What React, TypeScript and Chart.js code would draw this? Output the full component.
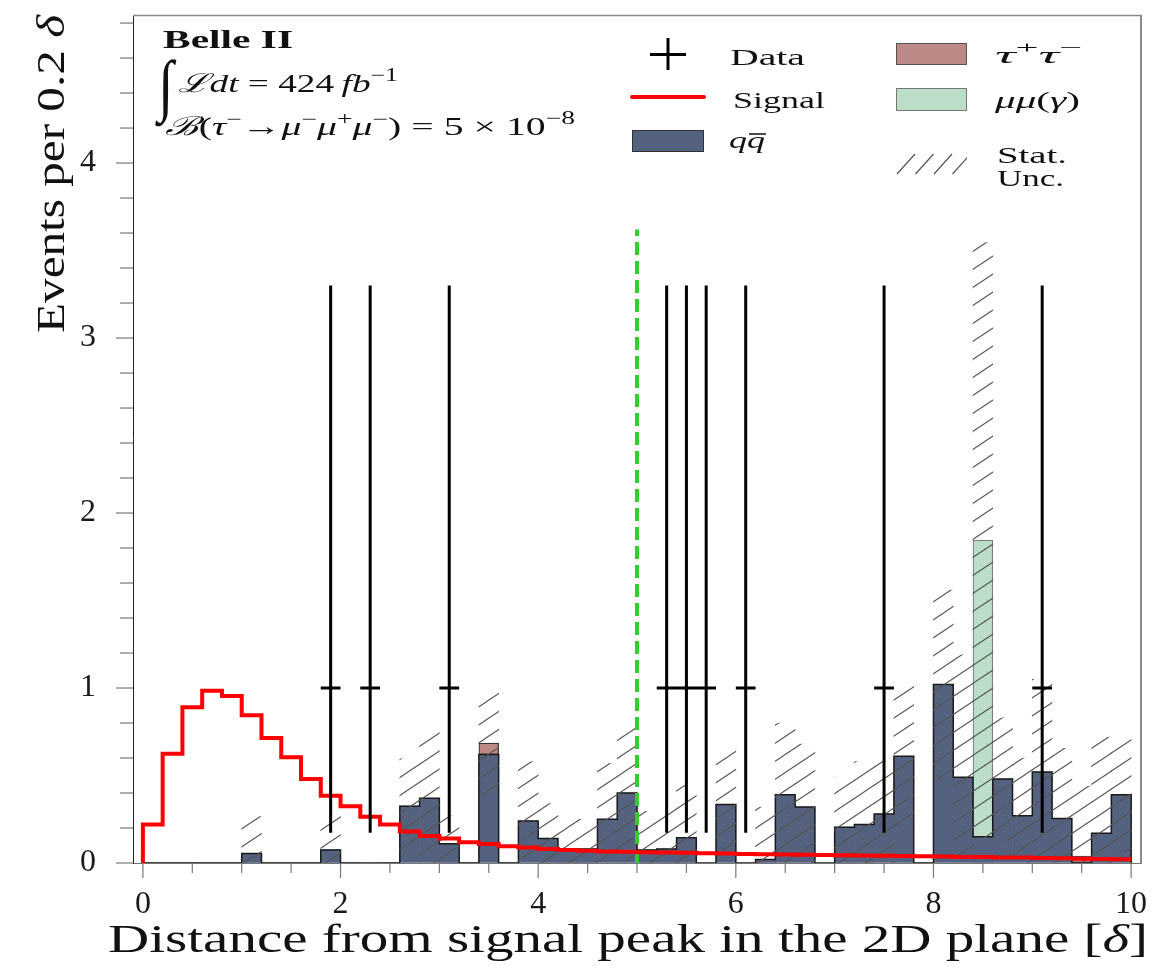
import React, { useEffect, useRef } from 'react';
import { Chart, registerables } from 'chart.js';

Chart.register(...registerables);

// ---------------- data ----------------
const binCenters = [
  0.1, 0.3, 0.5, 0.7, 0.9, 1.1, 1.3, 1.5, 1.7, 1.9,
  2.1, 2.3, 2.5, 2.7, 2.9, 3.1, 3.3, 3.5, 3.7, 3.9,
  4.1, 4.3, 4.5, 4.7, 4.9, 5.1, 5.3, 5.5, 5.7, 5.9,
  6.1, 6.3, 6.5, 6.7, 6.9, 7.1, 7.3, 7.5, 7.7, 7.9,
  8.1, 8.3, 8.5, 8.7, 8.9, 9.1, 9.3, 9.5, 9.7, 9.9,
];
const binWidth = 0.2;

const signal = [
  0.22, 0.625, 0.89, 0.985, 0.955, 0.845, 0.715, 0.605, 0.48, 0.385,
  0.325, 0.265, 0.22, 0.18, 0.155, 0.14, 0.118, 0.108, 0.096, 0.088,
  0.08, 0.075, 0.07, 0.066, 0.064, 0.062, 0.06, 0.058, 0.056, 0.054,
  0.052, 0.05, 0.049, 0.047, 0.046, 0.044, 0.043, 0.041, 0.04, 0.038,
  0.037, 0.035, 0.034, 0.032, 0.031, 0.029, 0.027, 0.025, 0.023, 0.021,
];

const qqbar: (number | null)[] = [
  0, 0, 0, 0, 0, 0.055, 0, 0, 0, 0.075,
  0, null, 0, 0.325, 0.37, 0.11, 0, 0.62, 0, 0.24,
  0.14, 0.08, 0.08, 0.25, 0.4, 0.075, 0.08, 0.145, null, 0.335,
  null, 0.02, 0.39, 0.32, null, 0.205, 0.22, 0.28, 0.61, 0,
  1.02, 0.49, 0.15, 0.48, 0.27, 0.52, 0.255, 0, 0.17, 0.39,
];

const tautau = [
  0, 0, 0, 0, 0, 0, 0, 0, 0, 0,
  0, 0, 0, 0, 0, 0, 0, 0.065, 0, 0,
  0, 0, 0, 0, 0, 0, 0, 0, 0, 0,
  0, 0, 0, 0, 0, 0, 0, 0, 0, 0,
  0, 0, 0, 0, 0, 0, 0, 0.04, 0, 0,
];

const mumu = [
  0, 0, 0, 0, 0, 0, 0, 0, 0, 0,
  0, 0, 0, 0, 0, 0, 0, 0, 0, 0,
  0, 0, 0, 0, 0, 0, 0, 0, 0, 0,
  0, 0, 0, 0, 0, 0, 0, 0, 0, 0,
  0, 0, 1.695, 0, 0, 0, 0, 0, 0, 0,
];

const statUnc = [
  0, 0, 0, 0, 0, 0.21, 0, 0, 0, 0.2,
  0, 0, 0, 0.27, 0.385, 0.16, 0, 0.3, 0, 0.34,
  0.2, 0.17, 0.17, 0.32, 0.385, 0.22, 0.24, 0.3, 0, 0.31,
  0, 0.3, 0.41, 0.36, 0, 0.29, 0.36, 0.3, 0.42, 0,
  0.54, 0.7, 1.7, 0.35, 0.33, 0.53, 0.4, 0.4, 0.55, 0.33,
];

const dataX = [1.9, 2.3, 3.1, 5.3, 5.5, 5.7, 6.1, 7.5, 9.1];
const dataY = [1, 1, 1, 1, 1, 1, 1, 1, 1];
const dataErrLow = [0.827, 0.827, 0.827, 0.827, 0.827, 0.827, 0.827, 0.827, 0.827];
const dataErrHigh = [2.3, 2.3, 2.3, 2.3, 2.3, 2.3, 2.3, 2.3, 2.3];

const cutPosition = 5;
const cutLineTop = 3.62;

const xTickLabels = ['0', '2', '4', '6', '8', '10'];
const yTickLabels = ['0', '1', '2', '3', '4'];

// ---------------- styling ----------------
const SERIF = '"Liberation Serif", "DejaVu Serif", serif';
const f = (size: number, style = '') => `${style} ${size}px ${SERIF}`.trim();

const COL_QQ = '#55627f';
const COL_TT = '#bc8987';
const COL_MM = '#bcdec8';
const COL_SIG = '#ff0000';
const COL_CUT = '#33cc33';

type Run = { t: string; font: string; dy?: number };

function drawRuns(ctx: CanvasRenderingContext2D, runs: Run[], x: number, y: number, targetW: number) {
  let total = 0;
  const ws = runs.map((r) => {
    ctx.font = r.font;
    const w = ctx.measureText(r.t).width;
    total += w;
    return w;
  });
  const sx = targetW / total;
  ctx.save();
  ctx.translate(x, y);
  ctx.scale(sx, 1);
  let cx = 0;
  const starts: number[] = [];
  runs.forEach((r, i) => {
    ctx.font = r.font;
    starts.push(cx * sx + x);
    ctx.fillText(r.t, cx, r.dy || 0);
    cx += ws[i];
  });
  ctx.restore();
  return { starts, widths: ws.map((w) => w * sx) };
}

function makeHatch(): CanvasPattern | string {
  const W = 27, H = 18;
  const c = document.createElement('canvas');
  c.width = W;
  c.height = H;
  const g = c.getContext('2d');
  if (!g) return 'rgba(0,0,0,0)';
  g.strokeStyle = '#555';
  g.lineWidth = 1.1;
  for (const off of [-H, 0, H]) {
    g.beginPath();
    g.moveTo(-W, 2 * H + off);
    g.lineTo(2 * W, -H + off);
    g.stroke();
  }
  return g.createPattern(c, 'repeat') || '#888';
}

const overlayPlugin = {
  id: 'belleOverlay',
  afterDraw(chart: any) {
    const { ctx, chartArea: a, scales } = chart;
    const xs = scales.x;
    const ys = scales.y;
    ctx.save();
    // tick marks
    ctx.strokeStyle = '#777';
    ctx.lineWidth = 1.2;
    xs.ticks.forEach((t: any) => {
      const px = xs.getPixelForValue(t.value);
      const major = Math.abs(t.value / 2 - Math.round(t.value / 2)) < 1e-6;
      ctx.beginPath();
      ctx.moveTo(px, a.bottom);
      ctx.lineTo(px, a.bottom + (major ? 15 : 10));
      ctx.stroke();
    });
    ys.ticks.forEach((t: any) => {
      const py = ys.getPixelForValue(t.value);
      const major = Math.abs(t.value - Math.round(t.value)) < 1e-6;
      ctx.beginPath();
      ctx.moveTo(a.left - (major ? 17 : 13), py);
      ctx.lineTo(a.left, py);
      ctx.stroke();
    });
    // frame top / right
    ctx.strokeStyle = '#8a8a8a';
    ctx.lineWidth = 1.3;
    ctx.beginPath();
    ctx.moveTo(a.left, a.top + 0.5);
    ctx.lineTo(a.right, a.top + 0.5);
    ctx.stroke();
    ctx.lineWidth = 2;
    ctx.beginPath();
    ctx.moveTo(a.right, a.top);
    ctx.lineTo(a.right, a.bottom);
    ctx.stroke();

    ctx.fillStyle = '#111';
    ctx.textBaseline = 'alphabetic';
    ctx.textAlign = 'left';

    // axis titles
    drawRuns(ctx, [
      { t: 'Distance from signal peak in the 2D plane [', font: f(40) },
      { t: 'δ', font: f(40, 'italic') },
      { t: ']', font: f(40) },
    ], 108, 952, 1040);
    ctx.save();
    ctx.translate(64, 333);
    ctx.rotate(-Math.PI / 2);
    drawRuns(ctx, [
      { t: 'Events per 0.2 ', font: f(40) },
      { t: 'δ', font: f(40, 'italic') },
    ], 0, 0, 318);
    ctx.restore();

    // top-left annotation
    drawRuns(ctx, [{ t: 'Belle II', font: f(25, 'bold') }], 163, 48, 130);
    ctx.save();
    ctx.font = f(56);
    ctx.translate(158, 108);
    ctx.scale(1.0, 1.22);
    ctx.fillText('∫', 0, 0);
    ctx.restore();
    drawRuns(ctx, [
      { t: 'ℒ', font: f(26, 'italic') },
      { t: 'dt', font: f(26, 'italic') },
      { t: ' = 424\u2009', font: f(26) },
      { t: 'fb', font: f(26, 'italic') },
      { t: '−1', font: f(18), dy: -11 },
    ], 178, 92, 220);
    drawRuns(ctx, [
      { t: 'ℬ', font: f(26, 'italic') },
      { t: '(', font: f(26) },
      { t: 'τ', font: f(26, 'italic') },
      { t: '−', font: f(18), dy: -10 },
      { t: '→', font: f(26) },
      { t: 'μ', font: f(26, 'italic') },
      { t: '−', font: f(18), dy: -10 },
      { t: 'μ', font: f(26, 'italic') },
      { t: '+', font: f(18), dy: -10 },
      { t: 'μ', font: f(26, 'italic') },
      { t: '−', font: f(18), dy: -10 },
      { t: ')', font: f(26) },
      { t: ' = 5 × 10', font: f(26) },
      { t: '−8', font: f(18), dy: -11 },
    ], 165, 135, 410);

    // legend symbols
    ctx.strokeStyle = '#000';
    ctx.lineWidth = 3;
    ctx.beginPath();
    ctx.moveTo(650, 54.5);
    ctx.lineTo(686, 54.5);
    ctx.moveTo(668, 38);
    ctx.lineTo(668, 70);
    ctx.stroke();

    ctx.strokeStyle = COL_SIG;
    ctx.lineWidth = 4;
    ctx.lineCap = 'round';
    ctx.beginPath();
    ctx.moveTo(632, 97);
    ctx.lineTo(704, 97);
    ctx.stroke();
    ctx.lineCap = 'butt';

    const box = (x0: number, y0: number, x1: number, y1: number, fill: string, stroke: string) => {
      ctx.fillStyle = fill;
      ctx.fillRect(x0, y0, x1 - x0, y1 - y0);
      ctx.strokeStyle = stroke;
      ctx.lineWidth = 1;
      ctx.strokeRect(x0 + 0.5, y0 + 0.5, x1 - x0 - 1, y1 - y0 - 1);
    };
    box(632, 130, 704, 152, COL_QQ, '#333');
    box(896, 43, 967, 65, COL_TT, '#555');
    box(896, 88, 967, 111, COL_MM, '#777');

    ctx.save();
    ctx.beginPath();
    ctx.rect(896, 152, 71, 23);
    ctx.clip();
    ctx.strokeStyle = '#555';
    ctx.lineWidth = 1.2;
    for (let i = 0; i < 4; i++) {
      const x0 = 897 + i * 18.5;
      ctx.beginPath();
      ctx.moveTo(x0, 174);
      ctx.lineTo(x0 + 18, 154);
      ctx.stroke();
    }
    ctx.restore();

    // legend text
    ctx.fillStyle = '#111';
    drawRuns(ctx, [{ t: 'Data', font: f(24) }], 730, 65, 75);
    drawRuns(ctx, [{ t: 'Signal', font: f(24) }], 733, 108, 92);
    const qq = drawRuns(ctx, [
      { t: 'q', font: f(24, 'italic') },
      { t: 'q', font: f(24, 'italic') },
    ], 729, 148, 36);
    ctx.strokeStyle = '#111';
    ctx.lineWidth = 1.5;
    ctx.beginPath();
    ctx.moveTo(qq.starts[1] + 2, 134);
    ctx.lineTo(qq.starts[1] + qq.widths[1] + 1, 134);
    ctx.stroke();
    drawRuns(ctx, [
      { t: 'τ', font: f(24, 'italic') },
      { t: '+', font: f(17), dy: -10 },
      { t: 'τ', font: f(24, 'italic') },
      { t: '−', font: f(17), dy: -10 },
    ], 995, 63, 87);
    drawRuns(ctx, [
      { t: 'μμ', font: f(24, 'italic') },
      { t: '(', font: f(24) },
      { t: 'γ', font: f(24, 'italic') },
      { t: ')', font: f(24) },
    ], 995, 108, 85);
    drawRuns(ctx, [{ t: 'Stat.', font: f(24) }], 997, 163, 70);
    drawRuns(ctx, [{ t: 'Unc.', font: f(24) }], 997, 186, 67);

    ctx.restore();
  },
};

export default function App() {
  const ref = useRef<HTMLCanvasElement | null>(null);

  useEffect(() => {
    document.body.style.margin = '0';
    const canvas = ref.current;
    if (!canvas) return;

    const half = binWidth / 2;
    const totals = binCenters.map((_, i) => (qqbar[i] ?? 0) + tautau[i] + mumu[i]);

    const qqData = binCenters.map((c, i) => ({ x: c, y: qqbar[i] === null ? null : [0, qqbar[i] as number] }));
    const ttData = binCenters.map((c, i) => {
      const base = qqbar[i] ?? 0;
      return { x: c, y: tautau[i] > 0 ? [base, base + tautau[i]] : null };
    });
    const mmData = binCenters.map((c, i) => {
      const base = (qqbar[i] ?? 0) + tautau[i];
      return { x: c, y: mumu[i] > 0 ? [base, base + mumu[i]] : null };
    });
    const hatchData = binCenters.map((c, i) => ({
      x: c,
      y: statUnc[i] > 0 ? [Math.max(0, totals[i] - statUnc[i]), totals[i] + statUnc[i]] : null,
    }));

    const outlinePts: any[] = binCenters.map((c, i) => ({ x: c - half, y: qqbar[i] ?? 0 }));
    outlinePts.push({ x: binCenters[binCenters.length - 1] + half, y: qqbar[qqbar.length - 1] ?? 0 });
    outlinePts.push({ x: binCenters[binCenters.length - 1] + half, y: 0 });

    const signalPts: any[] = [{ x: binCenters[0] - half, y: 0 }];
    binCenters.forEach((c, i) => signalPts.push({ x: c - half, y: signal[i] }));
    signalPts.push({ x: binCenters[binCenters.length - 1] + half, y: signal[signal.length - 1] });

    const dataPts: any[] = [];
    dataX.forEach((x, i) => {
      dataPts.push({ x, y: dataY[i] - dataErrLow[i] });
      dataPts.push({ x, y: dataY[i] + dataErrHigh[i] });
      dataPts.push({ x, y: null });
      dataPts.push({ x: x - half, y: dataY[i] });
      dataPts.push({ x: x + half, y: dataY[i] });
      dataPts.push({ x, y: null });
    });

    const barCommon = {
      type: 'bar' as const,
      grouped: false,
      barPercentage: 1,
      categoryPercentage: 1,
    };

    const chart = new Chart(canvas, {
      type: 'bar',
      data: {
        datasets: [
          {
            type: 'line', label: 'Data', data: dataPts, borderColor: '#000', borderWidth: 3,
            pointRadius: 0, spanGaps: false, order: 0, borderCapStyle: 'butt',
          } as any,
          {
            type: 'line', label: 'Signal', data: signalPts, stepped: true, borderColor: COL_SIG,
            borderWidth: 4, pointRadius: 0, order: 1, borderJoinStyle: 'miter',
          } as any,
          {
            type: 'line', label: 'cut', data: [{ x: cutPosition, y: 0 }, { x: cutPosition, y: cutLineTop }],
            borderColor: COL_CUT, borderWidth: 4, borderDash: [13, 6], pointRadius: 0, order: 2,
          } as any,
          {
            ...barCommon, label: 'Stat. Unc.', data: hatchData, backgroundColor: makeHatch(),
            borderWidth: 0, order: 3,
          } as any,
          {
            type: 'line', label: 'qq outline', data: outlinePts, stepped: true, borderColor: '#1a1a1a',
            borderWidth: 1.5, pointRadius: 0, order: 4,
          } as any,
          {
            ...barCommon, label: 'μμ(γ)', data: mmData, backgroundColor: COL_MM, borderColor: '#7d7d7d',
            borderWidth: 1.2, borderSkipped: false, order: 5,
          } as any,
          {
            ...barCommon, label: 'τ+τ−', data: ttData, backgroundColor: COL_TT, borderColor: '#333',
            borderWidth: 1.2, borderSkipped: false, order: 6,
          } as any,
          {
            ...barCommon, label: 'qq̄', data: qqData, backgroundColor: COL_QQ, borderWidth: 0, order: 7,
          } as any,
        ],
      },
      options: {
        responsive: false,
        animation: false,
        devicePixelRatio: 1,
        events: [],
        layout: { padding: { top: 15, right: 11, left: 0, bottom: 0 }, autoPadding: false },
        plugins: { legend: { display: false }, tooltip: { enabled: false }, title: { display: false } },
        scales: {
          x: {
            type: 'linear', min: -0.1, max: 10.1, offset: false,
            grid: { display: true, drawOnChartArea: false, drawTicks: true, tickLength: 14, tickColor: 'transparent', offset: false },
            border: { display: true, color: '#777', width: 1 },
            ticks: {
              stepSize: 0.5, includeBounds: false, autoSkip: false, maxRotation: 0, minRotation: 0,
              padding: 8, color: '#1a1a1a', font: { family: SERIF, size: 32 },
              callback: (v: any) => {
                const n = Number(v);
                const idx = xTickLabels.indexOf(String(Math.round(n)));
                return Math.abs(n - Math.round(n)) < 1e-6 && idx >= 0 ? xTickLabels[idx] : '';
              },
            },
            afterFit: (s: any) => {
              s.height = 103;
              s.paddingLeft = 0;
              s.paddingRight = 0;
            },
          },
          y: {
            type: 'linear', min: 0, max: 4.846,
            grid: { display: true, drawOnChartArea: false, drawTicks: true, tickLength: 17, tickColor: 'transparent' },
            border: { display: true, color: '#222', width: 1 },
            ticks: {
              stepSize: 0.2, includeBounds: false, autoSkip: false,
              padding: 20, color: '#1a1a1a', font: { family: SERIF, size: 32 },
              callback: (v: any) => {
                const n = Number(v);
                const idx = yTickLabels.indexOf(String(Math.round(n)));
                return Math.abs(n - Math.round(n)) < 1e-6 && idx >= 0 ? yTickLabels[idx] : '';
              },
            },
            afterFit: (s: any) => {
              s.width = 133;
              s.paddingTop = 0;
              s.paddingBottom = 0;
            },
          },
        },
      } as any,
      plugins: [overlayPlugin],
    });

    return () => chart.destroy();
  }, []);

  return <canvas ref={ref} width={1152} height={966} style={{ display: 'block', width: 1152, height: 966 }} />;
}
